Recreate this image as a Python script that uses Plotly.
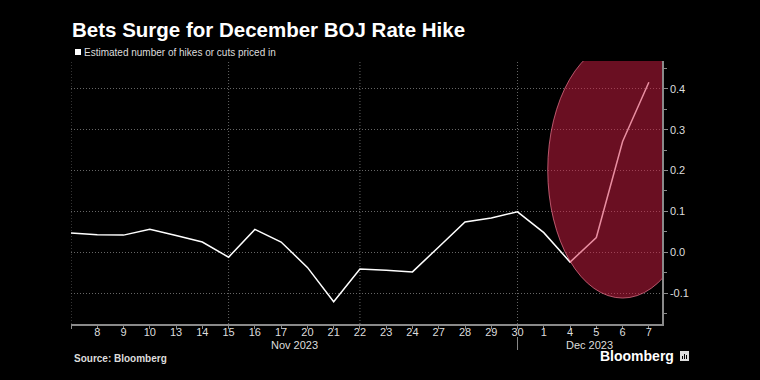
import plotly.graph_objects as go

dates = ["Nov 7", "Nov 8", "Nov 9", "Nov 10", "Nov 13", "Nov 14", "Nov 15", "Nov 16",
         "Nov 17", "Nov 20", "Nov 21", "Nov 22", "Nov 23", "Nov 24", "Nov 27", "Nov 28",
         "Nov 29", "Nov 30", "Dec 1", "Dec 4", "Dec 5", "Dec 6", "Dec 7"]
tick_labels = ["", "8", "9", "10", "13", "14", "15", "16", "17", "20", "21", "22", "23",
               "24", "27", "28", "29", "30", "1", "4", "5", "6", "7"]
hikes_priced = [0.047, 0.043, 0.042, 0.056, 0.041, 0.025, -0.012, 0.056, 0.025, -0.037,
                -0.121, -0.041, -0.044, -0.048, 0.013, 0.074, 0.084, 0.099, 0.048, -0.024,
                0.036, 0.271, 0.416]
y_ticks = [-0.1, 0.0, 0.1, 0.2, 0.3, 0.4]
y_tick_labels = ["-0.1", "0.0", "0.1", "0.2", "0.3", "0.4"]
month_labels = ["Nov 2023", "Dec 2023"]
vgrid_dates = ["Nov 7", "Nov 15", "Nov 22", "Nov 30"]

idx = list(range(len(dates)))

W, H = 760, 380
L, R, T, B = 71, 98, 61, 56
PW, PH = W - L - R, H - T - B


def px(x):
    return (x - L) / PW


def py(y):
    return (H - B - y) / PH


FONT = "Liberation Sans, Arial, sans-serif"
AX = "#8a8a8a"
GRID = "#666666"
GDASH = "1px,2px"

fig = go.Figure()
fig.add_trace(go.Scatter(
    x=idx, y=hikes_priced, mode="lines",
    line=dict(color="#ffffff", width=1.5),
    hoverinfo="skip", showlegend=False,
))

shapes = []
for d in vgrid_dates:
    i = dates.index(d)
    shapes.append(dict(type="line", xref="x", yref="paper", x0=i, x1=i, y0=0, y1=1,
                       line=dict(color=GRID, width=1, dash=GDASH), layer="below"))
# month separator tick
sep = dates.index("Nov 30")
shapes.append(dict(type="line", xref="x", yref="paper", x0=sep, x1=sep,
                   y0=py(337), y1=py(350), line=dict(color=AX, width=1)))
# highlight ellipse
shapes.append(dict(type="circle", xref="x", yref="y",
                   x0=18.15, x1=23.85, y0=-0.112, y1=0.515,
                   fillcolor="rgba(212,30,68,0.5)",
                   line=dict(color="rgba(240,120,145,0.7)", width=1), layer="above"))
# legend square
shapes.append(dict(type="rect", xref="paper", yref="paper",
                   x0=px(75), x1=px(81), y0=py(55), y1=py(49),
                   fillcolor="#ffffff", line=dict(width=0)))
# bloomberg icon
shapes.append(dict(type="rect", xref="paper", yref="paper",
                   x0=px(680), x1=px(689), y0=py(361), y1=py(351),
                   fillcolor="#dddddd", line=dict(width=0)))
for bx, top in [(682.5, 356), (684.5, 354), (686.5, 355)]:
    shapes.append(dict(type="line", xref="paper", yref="paper",
                       x0=px(bx), x1=px(bx), y0=py(359), y1=py(top),
                       line=dict(color="#000000", width=1)))

annotations = [
    dict(text="<b>Bets Surge for December BOJ Rate Hike</b>", xref="paper", yref="paper",
         x=px(70), y=py(29), xanchor="left", yanchor="middle", showarrow=False,
         font=dict(family=FONT, size=20.5, color="#ffffff")),
    dict(text="Estimated number of hikes or cuts priced in", xref="paper", yref="paper",
         x=px(82), y=py(52), xanchor="left", yanchor="middle", showarrow=False,
         font=dict(family=FONT, size=10, color="#dddddd")),
    dict(text=month_labels[0], xref="x", yref="paper", x=8.5, y=py(345),
         xanchor="center", yanchor="middle", showarrow=False,
         font=dict(family=FONT, size=11, color="#dddddd")),
    dict(text=month_labels[1], xref="x", yref="paper", x=19.75, y=py(345),
         xanchor="center", yanchor="middle", showarrow=False,
         font=dict(family=FONT, size=11, color="#dddddd")),
    dict(text="<b>Source: Bloomberg</b>", xref="paper", yref="paper",
         x=px(72), y=py(358), xanchor="left", yanchor="middle", showarrow=False,
         font=dict(family=FONT, size=10, color="#dddddd")),
    dict(text="<b>Bloomberg</b>", xref="paper", yref="paper",
         x=px(676), y=py(356), xanchor="right", yanchor="middle", showarrow=False,
         font=dict(family=FONT, size=14, color="#ffffff")),
]

fig.update_layout(
    width=W, height=H,
    margin=dict(l=L, r=R, t=T, b=B),
    paper_bgcolor="#000000", plot_bgcolor="#000000",
    font=dict(family=FONT, color="#dddddd"),
    shapes=shapes, annotations=annotations,
    showlegend=False,
    xaxis=dict(
        range=[0, 22.5], tickmode="array", tickvals=idx, ticktext=tick_labels,
        showgrid=False, zeroline=False, showline=True, linecolor=AX, linewidth=1.5,
        ticks="outside", ticklen=3, tickcolor=AX, ticklabelstandoff=-6,
        tickfont=dict(family=FONT, size=11, color="#dddddd"),
        fixedrange=True,
    ),
    yaxis=dict(
        side="right", range=[-0.1755, 0.468], tickmode="array",
        tickvals=y_ticks, ticktext=y_tick_labels,
        showgrid=True, gridcolor=GRID, griddash=GDASH, gridwidth=1,
        zeroline=False, showline=True, linecolor=AX, linewidth=1.5,
        ticks="outside", ticklen=4, tickcolor=AX,
        minor=dict(tickvals=[-0.15, -0.05, 0.05, 0.15, 0.25, 0.35, 0.45],
                   ticks="outside", ticklen=3, tickcolor=AX, showgrid=False),
        tickfont=dict(family=FONT, size=11, color="#dddddd"),
        fixedrange=True,
    ),
)

fig.write_html("out.html",
               config={"displayModeBar": False},
               post_script="document.body.style.margin='0';"
                           "document.body.style.background='#000';")
